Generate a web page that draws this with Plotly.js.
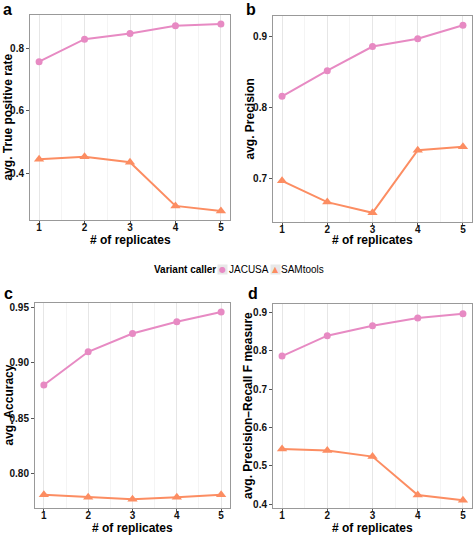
<!DOCTYPE html>
<html>
<head>
<meta charset="utf-8">
<script src="https://cdn.plot.ly/plotly-3.0.1.min.js"></script>
<style>html,body{margin:0;padding:0;background:#fff;}#chart{width:473px;height:535px;}</style>
</head>
<body>
<div id="chart"></div>
<script>
const replicates = [1, 2, 3, 4, 5];
const seriesNames = ["JACUSA", "SAMtools"];
const tprJACUSA = [0.757, 0.829, 0.847, 0.872, 0.877];
const tprSAMtools = [0.446, 0.454, 0.436, 0.297, 0.281];
const precJACUSA = [0.816, 0.852, 0.886, 0.897, 0.916];
const precSAMtools = [0.697, 0.667, 0.652, 0.740, 0.745];
const accJACUSA = [0.880, 0.910, 0.9265, 0.937, 0.9458];
const accSAMtools = [0.781, 0.7786, 0.7768, 0.7786, 0.781];
const fJACUSA = [0.786, 0.839, 0.865, 0.885, 0.896];
const fSAMtools = [0.544, 0.540, 0.524, 0.424, 0.410];
const panelLetters = ["a", "b", "c", "d"];
const yTitles = ["avg. True positive rate", "avg. Precision", "avg. Accuracy", "avg. Precision\u2013Recall F measure"];
const xTitle = "# of replicates";
const legendTitle = "Variant caller";
const yTicks = [[0.4, 0.6, 0.8], [0.7, 0.8, 0.9], [0.80, 0.85, 0.90, 0.95], [0.4, 0.5, 0.6, 0.7, 0.8, 0.9]];
const yTickText = [["0.4", "0.6", "0.8"], ["0.7", "0.8", "0.9"], ["0.80", "0.85", "0.90", "0.95"], ["0.4", "0.5", "0.6", "0.7", "0.8", "0.9"]];
const yRanges = [[0.252, 0.906], [0.639, 0.929], [0.769, 0.954], [0.39, 0.9216]];

const colJ = "#E78AC3", colS = "#FC8D62";
const seriesColors = [colJ, colS];
const seriesGlyphs = ["\u25CF", "\u25B2"];
const W = 473, H = 535;
const FONT = "Liberation Sans, Arial, Helvetica, sans-serif";
// pixel boxes [left, right, top, bottom]
const boxes = [[30, 230, 15, 220], [273, 472, 16, 222], [35, 230, 303, 508], [273, 472, 304, 508]];
const yTitleX = [8, 249.5, 8, 248];
const xTitleY = [239.5, 239.5, 527.5, 527.5];

const dataSets = [[tprJACUSA, tprSAMtools], [precJACUSA, precSAMtools], [accJACUSA, accSAMtools], [fJACUSA, fSAMtools]];
const traces = [];
const layout = {
  width: W, height: H,
  margin: {l: 0, r: 0, t: 0, b: 0},
  paper_bgcolor: "#fff", plot_bgcolor: "#fff",
  font: {family: FONT, color: "#000"},
  showlegend: false,
  annotations: []
};

dataSets.forEach((ds, i) => {
  const k = i === 0 ? "" : String(i + 1);
  const b = boxes[i];
  traces.push({
    x: replicates, y: ds[0], xaxis: "x" + k, yaxis: "y" + k, name: seriesNames[0],
    mode: "lines+markers", line: {color: colJ, width: 2},
    marker: {symbol: "circle", size: 7, color: colJ}
  });
  traces.push({
    x: replicates, y: ds[1], xaxis: "x" + k, yaxis: "y" + k, name: seriesNames[1],
    mode: "lines+markers", line: {color: colS, width: 2},
    marker: {symbol: "triangle-up", size: 9, color: colS}
  });
  layout["xaxis" + k] = {
    domain: [b[0] / W, b[1] / W], anchor: "y" + k, range: [0.8, 5.2],
    tickvals: replicates, ticktext: replicates.map(String),
    showgrid: true, gridcolor: "#e6e6e6", gridwidth: 1,
    minor: {dtick: 0.5, tick0: 0.5, showgrid: true, gridcolor: "#f4f4f4", gridwidth: 1, ticklen: 0},
    showline: true, mirror: true, linecolor: "#999", linewidth: 1,
    ticks: "outside", ticklen: 3, tickcolor: "#555", tickwidth: 1,
    ticklabelstandoff: -5,
    tickfont: {size: 10, weight: "bold", family: FONT, color: "#111"},
    zeroline: false, fixedrange: true
  };
  layout["yaxis" + k] = {
    domain: [1 - b[3] / H, 1 - b[2] / H], anchor: "x" + k, range: yRanges[i],
    tickvals: yTicks[i], ticktext: yTickText[i],
    showgrid: false,
    showline: true, mirror: true, linecolor: "#999", linewidth: 1,
    ticks: "outside", ticklen: 3, tickcolor: "#555", tickwidth: 1,
    tickfont: {size: 10, weight: "bold", family: FONT, color: "#111"},
    zeroline: false, fixedrange: true
  };
  layout.annotations.push({
    text: yTitles[i], xref: "paper", yref: "paper",
    x: yTitleX[i] / W, y: 1 - (b[2] + b[3]) / 2 / H, textangle: -90,
    xanchor: "center", yanchor: "middle", showarrow: false, borderpad: 0,
    font: {size: 12, weight: "bold", family: FONT, color: "#000"}
  });
  layout.annotations.push({
    text: xTitle, xref: "paper", yref: "paper",
    x: (b[0] + b[1]) / 2 / W, y: 1 - xTitleY[i] / H,
    xanchor: "center", yanchor: "middle", showarrow: false, borderpad: 0,
    font: {size: 12, weight: "bold", family: FONT, color: "#000"}
  });
});

// Legend (ggplot-style: title + key boxes + labels)
const legY = 1 - 270 / H;
layout.annotations.push({
  text: legendTitle, xref: "paper", yref: "paper", x: 217 / W, y: legY,
  xanchor: "right", yanchor: "middle", showarrow: false, borderpad: 0,
  font: {size: 10, weight: "bold", family: FONT, color: "#000"}
});
const keyX = [222.5, 275];
const labX = [227.5, 280];
seriesNames.forEach((nm, j) => {
  layout.annotations.push({
    text: seriesGlyphs[j], xref: "paper", yref: "paper", x: keyX[j] / W, y: legY,
    xanchor: "center", yanchor: "middle", showarrow: false, borderpad: 0,
    width: 9, height: 9, bgcolor: "#e8e8e8", valign: "middle",
    font: {size: 8, family: "DejaVu Sans, sans-serif", color: seriesColors[j]}
  });
  layout.annotations.push({
    text: nm, xref: "paper", yref: "paper", x: labX[j] / W, y: legY,
    xanchor: "left", yanchor: "middle", showarrow: false, borderpad: 0,
    font: {size: 10, family: FONT, color: "#000"}
  });
});

const letterPos = [[2, 0], [245, 0], [3, 284], [247, 284]];
letterPos.forEach((p, i) => {
  layout.annotations.push({
    text: panelLetters[i], xref: "paper", yref: "paper", x: p[0] / W, y: 1 - p[1] / H,
    xanchor: "left", yanchor: "top", showarrow: false, borderpad: 0,
    font: {size: 16, weight: "bold", family: FONT, color: "#000"}
  });
});

Plotly.newPlot("chart", traces, layout, {staticPlot: true, displayModeBar: false});
</script>
</body>
</html>
